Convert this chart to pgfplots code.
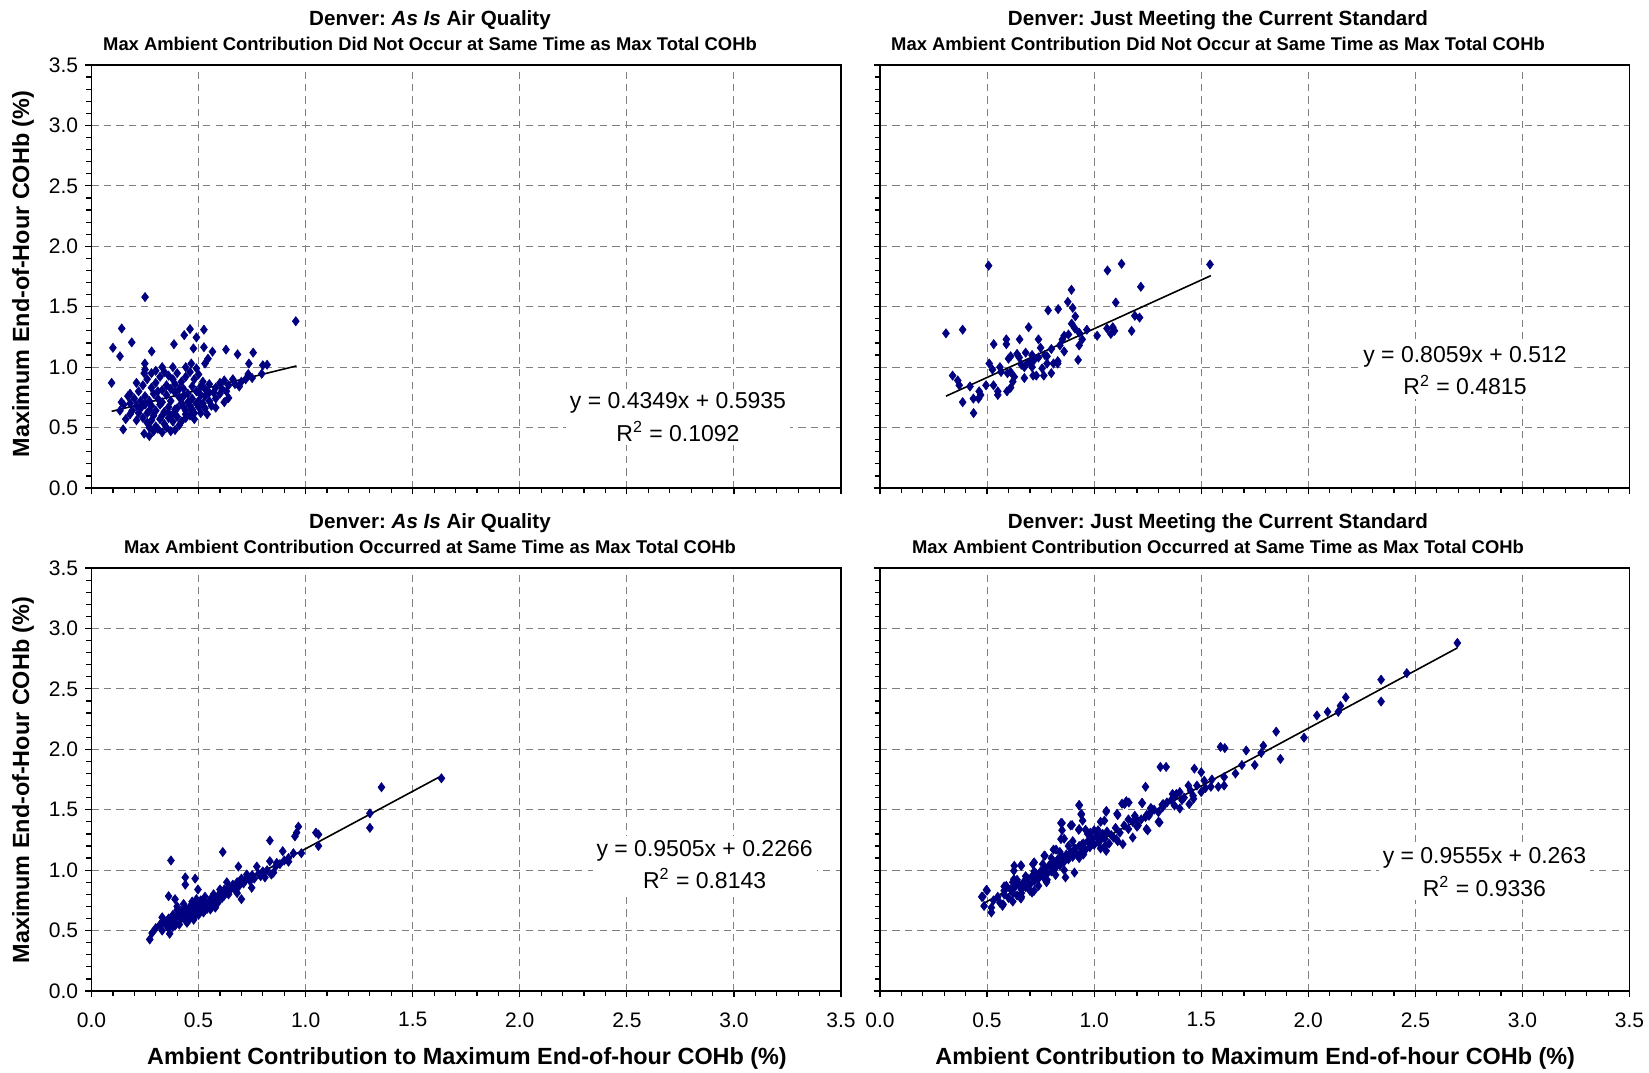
\documentclass[border=0pt]{standalone}
\usepackage{fontspec}
\setmainfont{Liberation Sans}
\usepackage{pgfplots}
\pgfplotsset{compat=1.18}
\frenchspacing
\definecolor{navyblue}{RGB}{0,0,128}
\definecolor{gridgray}{RGB}{128,128,128}
\pgfplotsset{
  panel/.style={
    scale only axis, width=374.75pt, height=211.5pt,
    xmin=0, xmax=3.5, ymin=0, ymax=3.5,
    xtick={0,0.5,1,1.5,2,2.5,3,3.5}, ytick={0,0.5,1,1.5,2,2.5,3,3.5},
    minor tick num=4,
    tick align=outside, tick pos=left,
    major tick length=3.2pt, minor tick length=2.6pt,
    grid=major,
    major grid style={draw=gridgray, line width=0.5pt, dash pattern=on 3.6pt off 2.6pt},
    axis line style={black, line width=0.8pt},
    every tick/.style={black, line width=0.6pt},
    ticklabel style={font=\fontsize{10.5}{12}\selectfont},
    xticklabel style={yshift=-4pt, /pgf/number format/.cd, fixed, fixed zerofill, precision=1, assume math mode=true},
    yticklabel style={/pgf/number format/.cd, fixed, fixed zerofill, precision=1, assume math mode=true},
  },
  pts/.style={only marks, mark=diamond*, mark size=2.3pt, color=navyblue, mark options={fill=navyblue, draw=navyblue, line width=0.3pt}},
  trend/.style={black, line width=0.8pt, no marks},
}
\begin{document}
\begin{tikzpicture}
\path[use as bounding box] (0pt,-536pt) rectangle (824.5pt,0pt);

% ---------- Top-left ----------
\begin{axis}[panel, at={(45.75pt,-244pt)}, anchor=south west, xticklabels={}]
\addplot[pts] coordinates {
(0.25,1.58) (0.141,1.32) (0.10,1.16) (0.188,1.205) (0.133,1.09) (0.094,0.87) (0.954,1.38)
(0.46,1.315) (0.525,1.31) (0.433,1.265) (0.49,1.246) (0.385,1.19) (0.476,1.155) (0.525,1.165)
(0.565,1.128) (0.628,1.145) (0.682,1.106) (0.755,1.12) (0.281,1.13) (0.544,1.07) (0.53,1.03)
(0.466,1.03) (0.249,1.03) (0.735,1.03) (0.80,1.015) (0.82,1.02) (0.246,0.95) (0.795,0.945)
(0.732,0.943) (0.148,0.485) (0.246,0.45) (0.27,0.43) (0.33,0.46) (0.39,0.48) (0.14,0.71)
(0.18,0.70) (0.133,0.64) (0.16,0.57) (0.18,0.61) (0.21,0.56) (0.54,0.61) (0.58,0.665)
(0.62,0.71) (0.64,0.745) (0.70,0.88) (0.67,0.86) (0.72,0.90) (0.75,0.91) (0.69,0.84)
(0.66,0.90) (0.61,0.82) (0.63,0.80) (0.60,0.78) (0.57,0.79) (0.58,0.74) (0.55,0.72)
(0.52,0.70) (0.50,0.67) (0.51,0.62)
(0.22,0.80) (0.24,0.85) (0.26,0.90) (0.28,0.95) (0.30,0.97) (0.32,0.92) (0.34,0.96) (0.36,0.93)
(0.38,0.90) (0.40,0.95) (0.42,0.88) (0.44,0.92) (0.46,0.96) (0.48,0.90) (0.50,0.94) (0.52,0.88)
(0.55,0.86) (0.25,0.76) (0.27,0.72) (0.29,0.78) (0.31,0.74) (0.33,0.81) (0.35,0.77) (0.37,0.72)
(0.39,0.79) (0.41,0.75) (0.43,0.82) (0.45,0.78) (0.47,0.74) (0.49,0.80) (0.51,0.77) (0.53,0.82)
(0.23,0.66) (0.26,0.62) (0.28,0.68) (0.30,0.64) (0.32,0.69) (0.34,0.63) (0.36,0.67) (0.38,0.61)
(0.40,0.66) (0.42,0.70) (0.44,0.64) (0.46,0.68) (0.48,0.62) (0.50,0.72) (0.24,0.58) (0.26,0.54)
(0.28,0.56) (0.30,0.51) (0.32,0.57) (0.34,0.53) (0.36,0.58) (0.38,0.55) (0.40,0.59) (0.42,0.55)
(0.44,0.58) (0.46,0.60) (0.48,0.57) (0.27,0.50) (0.29,0.47) (0.31,0.49) (0.35,0.50) (0.37,0.47)
(0.41,0.52) (0.20,0.74) (0.21,0.68) (0.19,0.64) (0.17,0.76) (0.15,0.69) (0.22,0.62) (0.23,0.72)
(0.28,0.83) (0.30,0.87) (0.31,0.80) (0.35,0.85) (0.37,0.82) (0.39,0.86) (0.41,0.82) (0.27,0.64)
(0.33,0.71) (0.43,0.76) (0.45,0.71) (0.47,0.84) (0.49,0.70) (0.51,0.84) (0.53,0.76) (0.55,0.79)
(0.56,0.68) (0.58,0.83) (0.60,0.87) (0.62,0.89) (0.64,0.85) (0.36,0.62) (0.44,0.61) (0.25,0.69)
(0.29,0.60) (0.33,0.60) (0.39,0.65) (0.43,0.67) (0.47,0.65) (0.53,0.66) (0.21,0.87) (0.25,0.98)
(0.33,1.00) (0.38,1.00) (0.44,1.00) (0.49,0.99) (0.18,0.78)
};
\addplot[trend] coordinates {(0.094,0.634) (0.957,1.010)};
\end{axis}

% ---------- Top-right ----------
\begin{axis}[panel, at={(440pt,-244pt)}, anchor=south west, xticklabels={}, yticklabels={}]
\addplot[pts] coordinates {
(0.308,1.28) (0.386,1.31) (0.507,1.84) (1.062,1.80) (1.128,1.855) (1.541,1.85) (1.218,1.665)
(0.894,1.64) (0.877,1.54) (1.101,1.535) (0.90,1.49) (0.785,1.47) (0.832,1.48) (0.912,1.42)
(0.895,1.36) (1.19,1.425) (1.212,1.41) (1.175,1.30) (1.06,1.32) (1.087,1.33) (1.095,1.30)
(1.078,1.275) (1.014,1.26) (0.694,1.33) (0.652,1.23) (0.59,1.23) (0.59,1.19) (0.531,1.19)
(0.74,1.23) (0.93,1.285) (0.966,1.31) (0.944,1.23) (0.852,1.23) (0.93,1.18) (0.86,1.13)
(0.80,1.15) (0.75,1.16) (0.77,1.10) (0.71,1.10) (0.65,1.08) (0.61,1.09) (0.60,1.07)
(0.51,1.03) (0.525,0.98) (0.565,0.96) (0.595,0.95) (0.61,0.96) (0.627,0.92) (0.674,0.91)
(0.674,1.00) (0.686,1.03) (0.71,1.00) (0.715,0.93) (0.73,0.93) (0.765,0.93) (0.757,0.99)
(0.78,1.03) (0.81,1.03) (0.83,1.05) (0.83,1.03) (0.80,0.95) (0.925,1.06) (0.339,0.93)
(0.363,0.89) (0.37,0.85) (0.42,0.84) (0.495,0.85) (0.53,0.85) (0.463,0.80) (0.47,0.77)
(0.46,0.74) (0.436,0.74) (0.386,0.71) (0.437,0.62) (0.55,0.80) (0.55,0.77) (0.593,0.80)
(0.61,0.83) (0.62,0.88) (0.72,1.06) (0.74,1.08) (0.68,1.12) (0.64,1.11) (0.88,1.27)
(0.91,1.32) (0.86,1.26) (0.84,1.18) (0.66,1.02) (0.70,1.04) (0.56,1.00) (0.78,1.09)
};
\addplot[trend] coordinates {(0.308,0.760) (1.545,1.757)};
\end{axis}

% ---------- Bottom-left ----------
\begin{axis}[panel, at={(45.75pt,-495.5pt)}, anchor=south west]
\addplot[pts] coordinates {
(0.272,0.427) (0.283,0.48) (0.365,0.474) (0.36,0.52) (0.33,0.61) (0.36,0.785) (0.371,1.08)
(0.613,1.15) (0.438,0.94) (0.438,0.88) (0.484,0.93) (0.497,0.84) (0.39,0.76) (0.40,0.70)
(0.415,0.63) (0.39,0.54) (0.446,0.565) (0.477,0.59) (0.46,0.675) (0.49,0.76) (0.51,0.70)
(0.523,0.65) (0.555,0.675) (0.57,0.76) (0.578,0.69) (0.60,0.84) (0.632,0.90) (0.663,0.854)
(0.68,0.81) (0.70,0.76) (0.686,1.03) (0.725,0.964) (0.748,0.854) (0.772,1.03) (0.81,0.94)
(0.833,1.074) (0.833,1.245) (0.84,0.964) (0.893,1.157) (0.865,1.06) (0.92,1.07) (0.943,1.14)
(0.95,1.28) (0.966,1.36) (0.98,1.14) (1.06,1.295) (1.06,1.20) (1.048,1.31) (0.958,1.31)
(1.634,1.76) (1.354,1.686) (1.30,1.47) (1.30,1.35)
(0.30,0.52) (0.32,0.55) (0.33,0.50) (0.34,0.58) (0.35,0.54) (0.36,0.60) (0.37,0.56) (0.38,0.63)
(0.38,0.53) (0.39,0.58) (0.40,0.62) (0.40,0.67) (0.41,0.55) (0.42,0.60) (0.42,0.66) (0.43,0.63)
(0.43,0.72) (0.44,0.58) (0.44,0.68) (0.45,0.62) (0.45,0.65) (0.46,0.70) (0.46,0.60) (0.47,0.66)
(0.47,0.74) (0.48,0.62) (0.48,0.69) (0.49,0.65) (0.49,0.72) (0.50,0.68) (0.50,0.63) (0.51,0.71)
(0.51,0.75) (0.52,0.66) (0.52,0.69) (0.53,0.73) (0.53,0.78) (0.54,0.68) (0.54,0.71) (0.55,0.74)
(0.55,0.70) (0.56,0.77) (0.57,0.72) (0.57,0.80) (0.58,0.75) (0.59,0.78) (0.59,0.73) (0.60,0.81)
(0.61,0.77) (0.62,0.84) (0.62,0.79) (0.63,0.82) (0.64,0.86) (0.64,0.80) (0.65,0.84) (0.66,0.88)
(0.67,0.85) (0.68,0.90) (0.69,0.87) (0.70,0.93) (0.71,0.89) (0.72,0.92) (0.73,0.95) (0.74,0.91)
(0.75,0.96) (0.76,0.93) (0.78,0.97) (0.79,0.95) (0.80,0.99) (0.82,1.00) (0.85,0.98) (0.88,1.05)
(0.90,1.08) (0.92,1.10) (0.86,1.03)
};
\addplot[trend] coordinates {(0.272,0.485) (1.634,1.780)};
\end{axis}

% ---------- Bottom-right ----------
\begin{axis}[panel, at={(440pt,-495.5pt)}, anchor=south west, yticklabels={}]
\addplot[pts] coordinates {
(2.696,2.88) (2.46,2.63) (2.34,2.576) (2.34,2.395) (2.175,2.43) (2.15,2.36) (2.14,2.31)
(2.09,2.31) (2.04,2.28) (1.85,2.146) (1.98,2.096) (1.87,1.92) (1.79,2.03) (1.78,1.97)
(1.75,1.87) (1.71,1.99) (1.69,1.87) (1.66,1.80) (1.59,2.02) (1.61,2.01) (1.607,1.77)
(1.607,1.70) (1.58,1.69) (1.545,1.69) (1.514,1.74) (1.468,1.84) (1.50,1.81) (1.50,1.646)
(1.464,1.59) (1.44,1.70) (1.40,1.646) (1.41,1.58) (1.366,1.63) (1.375,1.535) (1.40,1.51)
(1.318,1.54) (1.309,1.854) (1.336,1.854) (1.24,1.69) (1.223,1.557) (1.264,1.513) (1.246,1.458)
(1.30,1.40) (1.19,1.45) (1.16,1.42) (1.205,1.37) (1.25,1.33) (1.15,1.57) (1.13,1.55)
(1.107,1.466) (1.057,1.49) (1.03,1.40) (1.018,1.33) (0.982,1.31) (0.93,1.535) (0.94,1.466)
(0.946,1.41) (0.89,1.37) (0.93,1.34) (0.85,1.39) (0.85,1.33) (0.86,1.26) (0.81,1.17)
(0.77,1.12) (0.714,1.05) (0.66,1.036) (0.625,0.995) (0.625,0.925) (0.59,0.87) (0.58,0.83)
(0.50,0.83) (0.48,0.78) (0.52,0.69) (0.575,0.717) (0.66,0.81) (0.72,0.83) (0.77,0.925)
(0.475,0.78) (0.497,0.837) (0.486,0.704) (0.52,0.65) (0.58,0.865) (0.572,0.705) (0.62,0.90)
(0.627,1.036) (0.658,1.04) (0.658,0.765) (0.72,1.064) (0.71,0.815) (0.767,1.12) (0.778,0.90)
(0.822,1.17) (0.845,1.39) (0.897,1.373) (0.845,1.257) (0.866,0.94) (0.908,0.98) (0.93,1.54)
(0.94,1.46) (0.928,1.334) (0.96,1.334) (0.944,1.215) (0.994,1.23) (1.025,1.257) (1.048,1.41)
(1.056,1.483) (1.056,1.16) (1.103,1.257) (1.11,1.456) (1.142,1.547) (1.162,1.56) (1.134,1.215)
(1.18,1.27) (1.197,1.423) (1.225,1.555) (1.244,1.34) (1.267,1.51) (1.306,1.395) (1.256,1.45)
(1.322,1.547) (1.384,1.63) (1.444,1.547) (1.462,1.616)
(0.53,0.75) (0.55,0.78) (0.56,0.73) (0.58,0.80) (0.60,0.77) (0.61,0.84) (0.62,0.81) (0.63,0.86)
(0.64,0.79) (0.65,0.88) (0.66,0.84) (0.67,0.90) (0.68,0.86) (0.69,0.93) (0.70,0.88) (0.71,0.95)
(0.72,0.91) (0.73,0.97) (0.74,0.93) (0.75,0.99) (0.76,0.95) (0.77,1.01) (0.78,0.97) (0.79,1.04)
(0.80,0.99) (0.81,1.06) (0.82,1.02) (0.83,1.09) (0.84,1.04) (0.85,1.11) (0.86,1.07) (0.87,1.13)
(0.88,1.09) (0.89,1.15) (0.90,1.11) (0.91,1.18) (0.92,1.13) (0.93,1.20) (0.94,1.15) (0.95,1.22)
(0.96,1.17) (0.97,1.24) (0.98,1.19) (0.99,1.26) (1.00,1.21) (1.01,1.28) (1.02,1.23) (1.03,1.25)
(1.04,1.30) (1.05,1.26) (1.06,1.32) (1.08,1.29) (1.10,1.35) (1.12,1.31) (1.14,1.37) (1.16,1.34)
(1.18,1.40) (1.20,1.36) (1.22,1.42) (1.24,1.44) (1.26,1.47) (1.28,1.50) (1.30,1.48) (1.32,1.52)
(1.34,1.56) (1.36,1.58) (1.38,1.62) (1.42,1.60) (1.45,1.66) (1.48,1.70) (1.52,1.68) (1.55,1.75)
(0.88,1.20) (0.90,1.24) (0.93,1.10) (0.95,1.13) (0.97,1.30) (1.00,1.33) (1.03,1.18) (1.05,1.20)
(1.07,1.22) (1.09,1.27) (1.11,1.24) (0.62,0.74) (0.66,0.78) (0.70,0.83) (0.74,0.87) (0.78,0.92)
(0.82,0.96) (0.86,1.00) (0.76,1.05) (0.72,0.99) (0.68,0.95) (0.64,0.92) (0.80,1.10) (0.84,1.15)
};
\addplot[trend] coordinates {(0.48,0.722) (2.696,2.839)};
\end{axis}

% ---------- Titles ----------
\node[font=\bfseries\fontsize{10.3}{12}\selectfont] at (215pt,-10pt) {Denver: \textit{As Is} Air Quality};
\node[font=\bfseries\fontsize{9.2}{11}\selectfont] at (215pt,-22pt) {Max Ambient Contribution Did Not Occur at Same Time as Max Total COHb};
\node[font=\bfseries\fontsize{10.3}{12}\selectfont] at (609pt,-10pt) {Denver: Just Meeting the Current Standard};
\node[font=\bfseries\fontsize{9.2}{11}\selectfont] at (609pt,-22pt) {Max Ambient Contribution Did Not Occur at Same Time as Max Total COHb};
\node[font=\bfseries\fontsize{10.3}{12}\selectfont] at (215pt,-261.5pt) {Denver: \textit{As Is} Air Quality};
\node[font=\bfseries\fontsize{9.2}{11}\selectfont] at (215pt,-273.5pt) {Max Ambient Contribution Occurred at Same Time as Max Total COHb};
\node[font=\bfseries\fontsize{10.3}{12}\selectfont] at (609pt,-261.5pt) {Denver: Just Meeting the Current Standard};
\node[font=\bfseries\fontsize{9.2}{11}\selectfont] at (609pt,-273.5pt) {Max Ambient Contribution Occurred at Same Time as Max Total COHb};

% ---------- Axis labels ----------
\node[rotate=90, font=\bfseries\fontsize{11.7}{14}\selectfont] at (11.5pt,-137pt) {Maximum End-of-Hour COHb (\%)};
\node[rotate=90, font=\bfseries\fontsize{11.7}{14}\selectfont] at (11.5pt,-390pt) {Maximum End-of-Hour COHb (\%)};
\node[font=\bfseries\fontsize{11.7}{14}\selectfont] at (233.5pt,-529pt) {Ambient Contribution to Maximum End-of-hour COHb (\%)};
\node[font=\bfseries\fontsize{11.7}{14}\selectfont] at (627.6pt,-529pt) {Ambient Contribution to Maximum End-of-hour COHb (\%)};

% ---------- Regression equations ----------
\node[fill=white, align=center, inner sep=2pt, font=\fontsize{11.5}{16.3}\selectfont] at (339pt,-208.5pt) {y = 0.4349x + 0.5935\\R\textsuperscript{2} = 0.1092};
\node[fill=white, align=center, inner sep=2pt, font=\fontsize{11.5}{16.3}\selectfont] at (732.5pt,-185.3pt) {y = 0.8059x + 0.512\\R\textsuperscript{2} = 0.4815};
\node[fill=white, align=center, inner sep=2pt, font=\fontsize{11.5}{16.3}\selectfont] at (352.3pt,-432.2pt) {y = 0.9505x + 0.2266\\R\textsuperscript{2} = 0.8143};
\node[fill=white, align=center, inner sep=2pt, font=\fontsize{11.5}{16.3}\selectfont] at (742.2pt,-435.9pt) {y = 0.9555x + 0.263\\R\textsuperscript{2} = 0.9336};
\end{tikzpicture}
\end{document}
